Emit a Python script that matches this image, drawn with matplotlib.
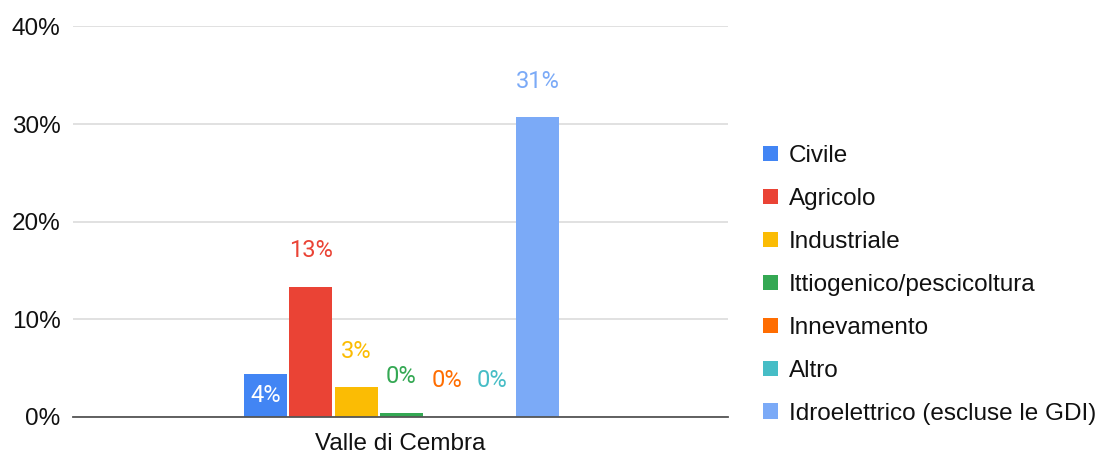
import matplotlib.pyplot as plt
from matplotlib.patches import Patch
from matplotlib.ticker import FuncFormatter

# share of water use by sector, Valle di Cembra (percent)
sectors = ['Civile', 'Agricolo', 'Industriale', 'Ittiogenico/pescicoltura',
           'Innevamento', 'Altro', 'Idroelettrico (escluse le GDI)']
shares = [4.4, 13.3, 3.0, 0.4, 0.0, 0.0, 30.7]
colors = ['#4285F4', '#EA4335', '#FBBC04', '#34A853', '#FF6D01', '#46BDC6', '#7BAAF7']
category = 'Valle di Cembra'
yticks = [0, 10, 20, 30, 40]

plt.rcParams['font.family'] = ['Liberation Sans', 'DejaVu Sans']

fig = plt.figure(figsize=(11, 4.55), dpi=100)
ax = fig.add_axes([73 / 1100, 1 - 416.7 / 455, 655 / 1100, 390.2 / 455])

step = 0.0692
width = 0.0652
n = len(sectors)
for i, (name, val, col) in enumerate(zip(sectors, shares, colors)):
    x = (i - (n - 1) / 2) * step + 0.0015
    ax.bar(x, val, width=width, color=col, zorder=3)
    txt = f'{round(val)}%'
    if i == 0:
        # label sits inside the first bar
        ax.text(x, val / 2, txt, ha='center', va='center', color='white',
                fontsize=17, family='Roboto', zorder=4)
    else:
        ax.annotate(txt, (x, val), xytext=(0, 26), textcoords='offset points',
                    ha='center', va='center', color=col, fontsize=17,
                    family='Roboto', zorder=4)

ax.set_xlim(-0.5, 0.5)
ax.set_ylim(0, 40)
ax.set_yticks(yticks)
ax.yaxis.set_major_formatter(FuncFormatter(lambda v, p: f'{v:.0f}%'))
ax.set_xticks([0])
ax.set_xticklabels([category])
ax.tick_params(axis='both', length=0, labelsize=17.5, labelcolor='#111111')
ax.tick_params(axis='x', pad=12)
ax.tick_params(axis='y', pad=9)
ax.grid(axis='y', color='#d9d9d9', linewidth=1.1, zorder=0)
for s in ['top', 'right', 'left']:
    ax.spines[s].set_visible(False)
ax.spines['bottom'].set_color('#555555')
ax.spines['bottom'].set_linewidth(1.3)
ax.spines['bottom'].set_zorder(5)

handles = [Patch(facecolor=c, edgecolor='none') for c in colors]
fig.legend(handles, sectors, loc='center left', bbox_to_anchor=(763 / 1100, 1 - 285 / 455),
           frameon=False, fontsize=17.5, handlelength=0.6, handleheight=0.6,
           handletextpad=0.45, labelspacing=0.86, borderpad=0, borderaxespad=0,
           labelcolor='#111111')

fig.savefig('out.png', dpi=100)
